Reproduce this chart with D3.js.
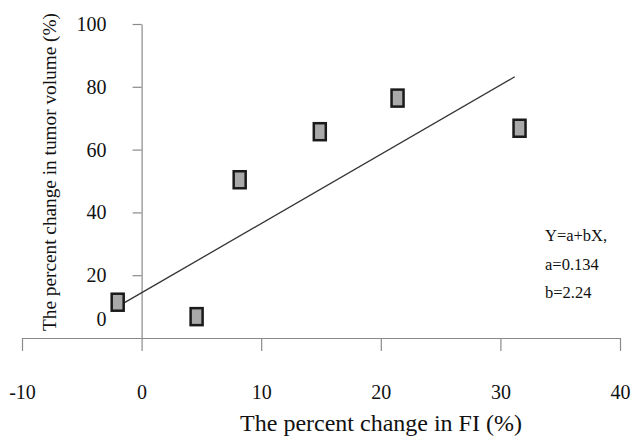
<!DOCTYPE html>
<html>
<head>
<meta charset="utf-8">
<script src="https://cdn.jsdelivr.net/npm/d3@7"></script>
<style>
  body { margin: 0; background: #fff; }
  text { font-family: "Liberation Serif", "Times New Roman", serif; }
</style>
</head>
<body>
<div id="chart"></div>
<script>
// measured points: percent change in FI vs percent change in tumor volume
var fiChange = [-2.0, 4.6, 8.2, 14.9, 21.4, 31.6];
var volChange = [11.4, 6.8, 50.4, 65.7, 76.4, 66.8];

// regression line end points
var fitX = [-1.5, 31.2];
var fitY = [11.1, 83.2];

var xTicks = [-10, 0, 10, 20, 30, 40];
var yTicks = [0, 20, 40, 60, 80, 100];
var equation = ["Y=a+bX,", "a=0.134", "b=2.24"];

plot_scatter("#chart");

function plot_scatter(htmlObjectId) {
    var width = 634;
    var height = 441;

    var x = d3.scaleLinear().domain([-10, 40]).range([22, 620]);
    var y = d3.scaleLinear().domain([0, 100]).range([338, 24]);

    var canvas = d3.select(htmlObjectId)
                    .append("svg")
                    .attr("width", width)
                    .attr("height", height);

    // x axis
    var xAxis = d3.axisBottom(x)
                .tickValues(xTicks)
                .tickFormat(function(d) { return String(d); })
                .tickSize(13)
                .tickSizeOuter(0)
                .tickPadding(34);

    var gx = canvas.append("g")
              .attr("transform", "translate(0," + y(0) + ")")
              .call(xAxis);
    gx.selectAll("path, line").attr("stroke", "#8a8a8a").attr("stroke-width", 1.2);
    gx.selectAll("text").attr("font-size", 20).attr("fill", "#111");

    // y axis
    var yAxis = d3.axisLeft(y)
                .tickValues(yTicks)
                .tickFormat(function(d) { return String(d); })
                .tickSize(9)
                .tickSizeOuter(0)
                .tickPadding(26);

    var gy = canvas.append("g")
              .attr("transform", "translate(" + x(0) + ",0)")
              .call(yAxis);
    gy.selectAll("path, line").attr("stroke", "#8a8a8a").attr("stroke-width", 1.2);
    gy.selectAll("text").attr("font-size", 20).attr("fill", "#111");
    gy.selectAll(".tick").filter(function(d) { return d === 0; })
        .select("text").attr("y", -19);
    gy.selectAll(".tick").filter(function(d) { return d === 0; })
        .select("line").remove();

    // fit line
    var line = d3.line()
                .x(function(d) { return x(d[0]); })
                .y(function(d) { return y(d[1]); });
    canvas.append("path")
        .datum(d3.zip(fitX, fitY))
        .attr("d", line)
        .attr("fill", "none")
        .attr("stroke", "#333")
        .attr("stroke-width", 1.3);

    // markers
    var mw = 12, mh = 17;
    canvas.selectAll("rect.pt")
        .data(d3.zip(fiChange, volChange))
        .enter()
            .append("rect")
            .attr("class", "pt")
            .attr("x", function(d) { return x(d[0]) - mw / 2; })
            .attr("y", function(d) { return y(d[1]) - mh / 2; })
            .attr("width", mw)
            .attr("height", mh)
            .attr("fill", "#a9a9a9")
            .attr("stroke", "#1a1a1a")
            .attr("stroke-width", 2.5);

    // equation
    canvas.selectAll("text.eq")
        .data(equation)
        .enter()
            .append("text")
            .attr("class", "eq")
            .attr("x", 545)
            .attr("y", function(d, i) { return 241 + i * 28.5; })
            .attr("font-size", 16.5)
            .attr("fill", "#111")
            .text(function(d) { return d; });

    // axis titles
    canvas.append("text")
        .attr("x", 381)
        .attr("y", 431)
        .attr("text-anchor", "middle")
        .attr("font-size", 24)
        .attr("fill", "#111")
        .text("The percent change in FI (%)");

    canvas.append("text")
        .attr("transform", "translate(56,172) rotate(-90)")
        .attr("text-anchor", "middle")
        .attr("font-size", 19.3)
        .attr("fill", "#111")
        .text("The percent change in tumor volume (%)");
}
</script>
</body>
</html>
